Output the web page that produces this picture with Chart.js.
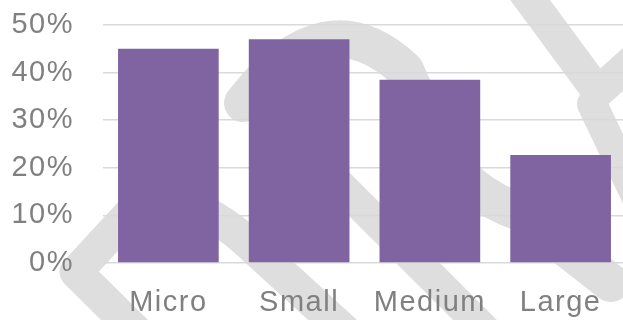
<!DOCTYPE html>
<html>
<head>
<meta charset="utf-8">
<script src="https://cdn.jsdelivr.net/npm/chart.js@4.4.0/dist/chart.umd.min.js"></script>
<style>
  html, body { margin: 0; padding: 0; background: #fff; overflow: hidden; }
  #wrap { width: 626px; height: 320px; }
</style>
</head>
<body>
<div id="wrap"><canvas id="myChart" width="626" height="320"></canvas></div>
<script>
var labels = ["Micro", "Small", "Medium", "Large"];
var shares = [45, 47, 38.5, 22.7];
var yTicks = [0, 10, 20, 30, 40, 50];

function stroke(c, width, draw) {
  c.lineWidth = width;
  c.beginPath();
  draw();
  c.stroke();
}

// light grey brush strokes painted behind the plot
var backdrop = {
  id: "backdrop",
  beforeDraw: function (chart) {
    var c = chart.ctx;
    c.save();
    c.strokeStyle = "#dedede";
    c.lineJoin = "round";
    c.lineCap = "round";

    // big hook over Small, dropping behind Medium and out to the right
    stroke(c, 38, function () {
      c.moveTo(243, 103);
      c.quadraticCurveTo(325, -5, 405, 70);
      c.lineTo(440, 150);
      c.quadraticCurveTo(470, 195, 520, 212);
      c.lineTo(611, 283);
    });

    // the V in the top right corner, with a tail down past Large
    stroke(c, 32, function () {
      c.moveTo(508, -30);
      c.lineTo(598, 92);
      c.lineTo(650, 45);
    });
    stroke(c, 30, function () {
      c.moveTo(592, 104);
      c.lineTo(645, 215);
    });

    // chevron on the left, folding back down to the right
    stroke(c, 33, function () {
      c.moveTo(160, 355);
      c.lineTo(76, 272);
      c.lineTo(150, 192);
      c.quadraticCurveTo(205, 205, 245, 240);
      c.lineTo(360, 345);
    });

    // diagonal through the Small / Medium gap
    stroke(c, 31, function () {
      c.moveTo(290, 135);
      c.lineTo(505, 350);
    });

    c.restore();
    // slightly looser text for the axis labels
    c.letterSpacing = "1.5px";
  },
};

var ctx = document.getElementById("myChart");

var myChart = new Chart(ctx, {
  type: "bar",
  data: {
    labels: labels,
    datasets: [
      {
        data: shares,
        backgroundColor: "#8064a2",
        borderWidth: 0,
        barPercentage: 0.77,
        categoryPercentage: 1,
      },
    ],
  },
  options: {
    responsive: false,
    animation: false,
    layout: { padding: { top: 25, right: 0, bottom: 0, left: 0 } },
    plugins: {
      legend: { display: false },
      tooltip: { enabled: false },
    },
    scales: {
      x: {
        grid: { display: false },
        border: { display: false },
        ticks: {
          color: "#808080",
          font: { family: "Liberation Sans", size: 29 },
          padding: 15,
          maxRotation: 0,
        },
        afterFit: function (scale) {
          scale.height = 57;
          scale.paddingTop = 0;
          scale.paddingBottom = 0;
        },
      },
      y: {
        min: 0,
        max: 50,
        afterBuildTicks: function (scale) {
          scale.ticks = yTicks.map(function (v) {
            return { value: v };
          });
        },
        grid: { color: "#d9d9d9", lineWidth: 1.5, drawTicks: false },
        border: { display: false },
        ticks: {
          color: "#808080",
          font: { family: "Liberation Sans", size: 29 },
          padding: 29,
          callback: function (v) {
            return v + "%";
          },
        },
        afterFit: function (scale) {
          scale.width = 103;
          scale.paddingTop = 0;
          scale.paddingBottom = 0;
        },
      },
    },
  },
  plugins: [backdrop],
});
</script>
</body>
</html>
